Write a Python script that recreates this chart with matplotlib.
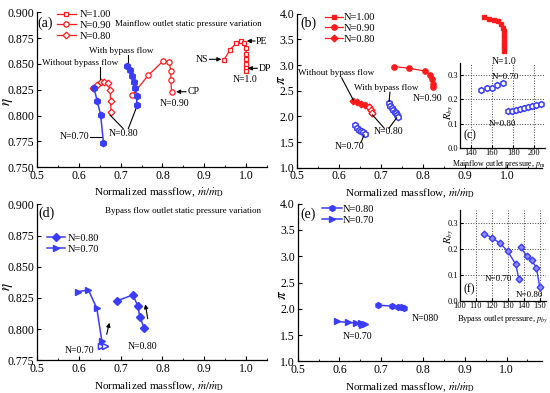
import matplotlib
matplotlib.use('Agg')
import matplotlib.pyplot as plt
from matplotlib.ticker import MultipleLocator, FormatStrFormatter

plt.rcParams['font.family'] = ['Liberation Serif', 'DejaVu Serif']
plt.rcParams['mathtext.fontset'] = 'stix'

RED = '#ff1a1a'
BLUE = '#3a3cff'

# ---------------- data ----------------
# (a) efficiency, mainflow outlet static pressure variation
a_n100_x = [0.947, 0.962, 0.976, 0.987, 0.996, 1.0, 1.0, 1.0, 1.0, 1.0, 1.0]
a_n100_y = [0.854, 0.864, 0.870, 0.872, 0.870, 0.865, 0.860, 0.855, 0.850, 0.846, 0.843]
a_n090_x = [0.728, 0.766, 0.802, 0.816, 0.820, 0.820, 0.822]
a_n090_y = [0.820, 0.839, 0.853, 0.852, 0.8435, 0.8345, 0.823]
a_n080_x = [0.633, 0.644, 0.653, 0.661, 0.669, 0.675, 0.676, 0.677]
a_n080_y = [0.8264, 0.8296, 0.8322, 0.8328, 0.8313, 0.8248, 0.8141, 0.8032]
a_b070_x = [0.636, 0.644, 0.652, 0.659]
a_b070_y = [0.8271, 0.8142, 0.8010, 0.7739]
a_b080_x = [0.716, 0.7235, 0.728, 0.731, 0.735, 0.738, 0.739]
a_b080_y = [0.8484, 0.8442, 0.8384, 0.8329, 0.8265, 0.8190, 0.8100]

# (b) pressure ratio
b_n100_x = [0.945, 0.958, 0.969, 0.979, 0.987, 0.991, 0.993, 0.993, 0.993, 0.993, 0.993, 0.993, 0.993]
b_n100_y = [3.93, 3.90, 3.88, 3.85, 3.80, 3.73, 3.66, 3.59, 3.52, 3.45, 3.39, 3.33, 3.27]
b_n090_x = [0.730, 0.766, 0.806, 0.817, 0.821, 0.823, 0.824]
b_n090_y = [2.97, 2.94, 2.88, 2.80, 2.73, 2.64, 2.58]
b_n080_x = [0.633, 0.643, 0.653, 0.663, 0.671, 0.676, 0.679]
b_n080_y = [2.29, 2.275, 2.245, 2.22, 2.19, 2.13, 2.07]
b_b080_x = [0.718, 0.721, 0.7255, 0.729, 0.733, 0.736, 0.739, 0.741]
b_b080_y = [2.255, 2.21, 2.17, 2.13, 2.09, 2.06, 2.025, 1.98]
b_b070_x = [0.637, 0.642, 0.647, 0.652, 0.657, 0.661]
b_b070_y = [1.83, 1.78, 1.74, 1.71, 1.69, 1.66]

# (c) bypass ratio vs mainflow outlet pressure
c_n070_x = [150, 155, 160, 165, 170]
c_n070_y = [0.237, 0.246, 0.248, 0.258, 0.268]
c_n080_x = [175, 179, 183, 186.5, 190, 194, 198, 201.5, 206]
c_n080_y = [0.151, 0.153, 0.157, 0.161, 0.165, 0.170, 0.174, 0.178, 0.182]

# (d) efficiency, bypass flow outlet static pressure variation
d_n080_x = [0.692, 0.729, 0.741, 0.746, 0.756]
d_n080_y = [0.8228, 0.8273, 0.8188, 0.8095, 0.8011]
d_n070_x = [0.597, 0.623, 0.643, 0.655, 0.654, 0.662]
d_n070_y = [0.830, 0.8313, 0.8167, 0.7905, 0.7865, 0.7865]

# (e) pressure ratio
e_n080_x = [0.691, 0.726, 0.741, 0.747, 0.755]
e_n080_y = [2.07, 2.05, 2.04, 2.03, 2.02]
e_n070_x = [0.593, 0.620, 0.640, 0.651, 0.655, 0.661]
e_n070_y = [1.76, 1.74, 1.73, 1.72, 1.70, 1.71]

# (f) bypass ratio vs bypass outlet pressure
f_n070_x = [115, 120, 125, 130, 135, 137]
f_n070_y = [0.258, 0.242, 0.222, 0.190, 0.140, 0.083]
f_n080_x = [138, 142, 145, 148, 150]
f_n080_y = [0.205, 0.172, 0.155, 0.127, 0.053]

# ---------------- figure ----------------
W, H = 550, 393
fig = plt.figure(figsize=(5.5, 3.93), dpi=100)


def box(l, t, r, b):
    return [l / W, 1 - b / H, (r - l) / W, (b - t) / H]


def style(ax, xlim, ylim, xmaj, ymaj, xfmt, yfmt, ts=8.5, xmin=None, ymin=None, grid=False):
    ax.set_xlim(xlim)
    ax.set_ylim(ylim)
    ax.patch.set_alpha(0)
    for s in ['top', 'right']:
        ax.spines[s].set_visible(False)
    for s in ['left', 'bottom']:
        ax.spines[s].set_linewidth(0.9)
    ax.xaxis.set_major_locator(MultipleLocator(xmaj))
    ax.yaxis.set_major_locator(MultipleLocator(ymaj))
    ax.xaxis.set_major_formatter(FormatStrFormatter(xfmt))
    ax.yaxis.set_major_formatter(FormatStrFormatter(yfmt))
    if xmin:
        ax.xaxis.set_minor_locator(MultipleLocator(xmin))
    if ymin:
        ax.yaxis.set_minor_locator(MultipleLocator(ymin))
    ax.tick_params(which='major', direction='in', length=3, width=0.8, labelsize=ts, pad=2)
    ax.tick_params(which='minor', direction='in', length=1.6, width=0.6)
    if grid:
        ax.grid(True, which='major', linestyle=':', color='0.25', linewidth=0.7)
        ax.set_axisbelow(True)


xl = r'Normalized massflow, $\dot{m}/\dot{m}_{\rm D}$'
TS = 7  # annotation font size
lw_ann = 0.8


def line(ax, x0, y0, x1, y1):
    ax.plot([x0, x1], [y0, y1], color='k', lw=lw_ann)


def arrow(ax, xt, yt, xh, yh):
    ax.annotate('', xy=(xh, yh), xytext=(xt, yt),
                arrowprops=dict(arrowstyle='-|>', color='k', lw=0.8,
                                mutation_scale=6, shrinkA=0, shrinkB=0))


# ---------------- (a) ----------------
ax = fig.add_axes(box(37, 12.3, 267, 167.3))
style(ax, (0.5, 1.05), (0.75, 0.9), 0.1, 0.025, '%.1f', '%.3f', xmin=0.05)
h1, = ax.plot(a_n100_x, a_n100_y, '-', color=RED, lw=0.9, marker='s', ms=3.5,
              mfc='white', mec=RED, mew=0.9, label='N=1.00')
h2, = ax.plot(a_n090_x, a_n090_y, '-', color=RED, lw=0.9, marker='o', ms=3.8,
              mfc='white', mec=RED, mew=0.9, label='N=0.90')
h3, = ax.plot(a_n080_x, a_n080_y, '-', color=RED, lw=0.9, marker='D', ms=3.4,
              mfc='white', mec=RED, mew=0.9, label='N=0.80')
ax.plot(a_b070_x, a_b070_y, '-', color=BLUE, lw=1.1, marker='h', ms=4.6,
        mfc=BLUE, mec=BLUE, zorder=3)
ax.plot(a_b080_x, a_b080_y, '-', color=BLUE, lw=1.1, marker='h', ms=4.6,
        mfc=BLUE, mec=BLUE, zorder=3)
ax.legend(handles=[h1, h2, h3], loc='upper left', bbox_to_anchor=(0.085, 1.015),
          frameon=False, fontsize=7.5, handlelength=1.9, handletextpad=0.3,
          labelspacing=0.15, borderpad=0, borderaxespad=0, numpoints=1)
ax.text(0.502, 0.889, '(a)', fontsize=10, va='center', ha='left')
ax.text(0.6866, 0.889, 'Mainflow outlet static pressure variation', fontsize=6.5,
        va='center', ha='left')
ax.text(0.701, 0.8625, 'With bypass flow', fontsize=6.6, ha='center', va='center')
line(ax, 0.717, 0.8588, 0.717, 0.8495)
ax.text(0.604, 0.8506, 'Without bypass flow', fontsize=6.6, ha='center', va='center')
line(ax, 0.651, 0.8468, 0.651, 0.8351)
ax.text(0.708, 0.7829, 'N=0.80', fontsize=TS, ha='center', va='center')
line(ax, 0.6746, 0.8006, 0.706, 0.7875)
line(ax, 0.7385, 0.8086, 0.7184, 0.7875)
ax.text(0.5885, 0.7796, 'N=0.70', fontsize=TS, ha='center', va='center')
line(ax, 0.627, 0.7796, 0.655, 0.7796)
ax.text(0.8278, 0.8119, 'N=0.90', fontsize=TS, ha='center', va='center')
arrow(ax, 0.8565, 0.8231, 0.8325, 0.8231)
ax.text(0.859, 0.8231, 'CP', fontsize=TS, ha='left', va='center')
arrow(ax, 1.0215, 0.8722, 1.0015, 0.8722)
ax.text(1.024, 0.8722, 'PE', fontsize=TS, ha='left', va='center')
arrow(ax, 1.027, 0.8458, 1.004, 0.8458)
ax.text(1.029, 0.8458, 'DP', fontsize=TS, ha='left', va='center')
arrow(ax, 0.912, 0.8545, 0.941, 0.8545)
ax.text(0.909, 0.8545, 'NS', fontsize=TS, ha='right', va='center')
ax.text(0.9976, 0.8351, 'N=1.0', fontsize=TS, ha='center', va='center')
ax.set_xlabel(xl, fontsize=8)
ax.set_ylabel(r'$\eta$', fontsize=11)
ax.xaxis.set_label_coords(0.532, -0.12)
ax.yaxis.set_label_coords(-0.095, 0.425)

# ---------------- (b) ----------------
ax = fig.add_axes(box(297, 13.7, 541.7, 167.7))
style(ax, (0.5, 1.083), (1.0, 4.0), 0.1, 0.5, '%.1f', '%.1f', xmin=0.05)
h1, = ax.plot(b_n100_x, b_n100_y, '-', color=RED, lw=0.9, marker='s', ms=3.5,
              mfc=RED, mec=RED, label='N=1.00')
h2, = ax.plot(b_n090_x, b_n090_y, '-', color=RED, lw=0.9, marker='o', ms=3.8,
              mfc=RED, mec=RED, label='N=0.90')
h3, = ax.plot(b_n080_x, b_n080_y, '-', color=RED, lw=0.9, marker='D', ms=3.4,
              mfc=RED, mec=RED, label='N=0.80')
ax.plot(b_n080_x[4:], b_n080_y[4:], 'D', ms=3.4, mfc='white', mec=RED, mew=0.9)
ax.plot(b_b080_x, b_b080_y, '-', color=BLUE, lw=0.9, marker='h', ms=4.4,
        mfc='white', mec=BLUE, mew=1.1)
ax.plot(b_b070_x, b_b070_y, '-', color=BLUE, lw=0.9, marker='h', ms=4.4,
        mfc='white', mec=BLUE, mew=1.1)
ax.legend(handles=[h1, h2, h3], loc='upper left', bbox_to_anchor=(0.114, 1.005),
          frameon=False, fontsize=7.5, handlelength=1.7, handletextpad=0.15,
          labelspacing=0.15, borderpad=0, borderaxespad=0, numpoints=1)
ax.text(0.507, 3.815, '(b)', fontsize=10, va='center', ha='left')
ax.text(0.594, 2.84, 'Without bypass flow', fontsize=6.6, ha='center', va='center')
line(ax, 0.6064, 2.75, 0.634, 2.32)
ax.text(0.7115, 2.548, 'With bypass flow', fontsize=6.6, ha='center', va='center')
line(ax, 0.7214, 2.47, 0.7195, 2.29)
ax.text(0.7174, 1.70, 'N=0.80', fontsize=TS, ha='center', va='center')
line(ax, 0.680, 2.027, 0.708, 1.768)
line(ax, 0.7374, 1.97, 0.719, 1.768)
ax.text(0.626, 1.409, 'N=0.70', fontsize=TS, ha='center', va='center')
line(ax, 0.660, 1.637, 0.652, 1.487)
ax.text(0.812, 2.353, 'N=0.90', fontsize=TS, ha='center', va='center')
ax.text(0.9936, 3.06, 'N=1.0', fontsize=TS, ha='center', va='center')
ax.set_xlabel(xl, fontsize=8)
ax.set_ylabel(r'$\pi$', fontsize=11)
ax.xaxis.set_label_coords(0.462, -0.12)
ax.yaxis.set_label_coords(-0.035, 0.569)

# ---------------- (c) inset ----------------
ax = fig.add_axes(box(460, 63, 545, 148))
style(ax, (130, 210), (0.0, 0.35), 20, 0.1, '%d', '%.1f', ts=6, grid=True)
ax.tick_params(length=2, pad=1)
ax.plot(c_n070_x, c_n070_y, 'h', ms=4.2, mfc='white', mec=BLUE, mew=1.1)
ax.plot(c_n080_x, c_n080_y, 'h', ms=4.2, mfc='white', mec=BLUE, mew=1.1)
ax.text(173, 0.293, 'N=0.70', fontsize=6.5, ha='center', va='center')
ax.text(170, 0.098, 'N=0.80', fontsize=6.5, ha='center', va='center')
ax.text(133, 0.054, '(c)', fontsize=8.5, ha='left', va='center')
ax.set_xlabel(r'Mainflow outlet pressure, $p_{\rm m}$', fontsize=5.7, labelpad=0)
ax.set_ylabel(r'$R_{by}$', fontsize=7.5, labelpad=0)
ax.xaxis.set_label_coords(0.45, -0.115)
ax.yaxis.set_label_coords(-0.045, 0.42)

# ---------------- (d) ----------------
ax = fig.add_axes(box(37, 204.3, 267, 360.3))
style(ax, (0.5, 1.05), (0.775, 0.9), 0.1, 0.025, '%.1f', '%.3f', xmin=0.05)
h1, = ax.plot(d_n080_x, d_n080_y, '-', color=BLUE, lw=1.1, marker='D', ms=3.6,
              mfc=BLUE, mec=BLUE, label='N=0.80')
h2, = ax.plot(d_n070_x, d_n070_y, '-', color=BLUE, lw=1.1, marker='>', ms=4.2,
              mfc=BLUE, mec=BLUE, label='N=0.70')
ax.plot(d_n070_x[4:], d_n070_y[4:], '>', ms=4.2, mfc='white', mec=BLUE, mew=1.0)
ax.legend(handles=[h1, h2], loc='upper left', bbox_to_anchor=(0.0435, 0.813),
          frameon=False, fontsize=7.5, handlelength=1.7, handletextpad=0.3,
          labelspacing=0.15, borderpad=0, borderaxespad=0, numpoints=1)
ax.text(0.503, 0.8928, '(d)', fontsize=10, va='center', ha='left')
ax.text(0.6627, 0.8946, 'Bypass flow outlet static pressure variation', fontsize=6.5,
        va='center', ha='left')
arrow(ax, 0.6667, 0.7958, 0.673, 0.8051)
arrow(ax, 0.7648, 0.8083, 0.759, 0.8199)
ax.text(0.6005, 0.7825, 'N=0.70', fontsize=TS, ha='center', va='center')
ax.text(0.7512, 0.7857, 'N=0.80', fontsize=TS, ha='center', va='center')
ax.set_xlabel(xl, fontsize=8)
ax.set_ylabel(r'$\eta$', fontsize=11)
ax.xaxis.set_label_coords(0.532, -0.125)
ax.yaxis.set_label_coords(-0.095, 0.47)

# ---------------- (e) ----------------
ax = fig.add_axes(box(297.7, 203.7, 541.7, 361.3))
style(ax, (0.5, 1.084), (1.0, 4.0), 0.1, 0.5, '%.1f', '%.1f', xmin=0.05)
h1, = ax.plot(e_n080_x, e_n080_y, '-', color=BLUE, lw=1.1, marker='h', ms=4.2,
              mfc=BLUE, mec=BLUE, label='N=0.80')
h2, = ax.plot(e_n070_x, e_n070_y, '-', color=BLUE, lw=1.1, marker='>', ms=4.2,
              mfc=BLUE, mec=BLUE, label='N=0.70')
ax.legend(handles=[h1, h2], loc='upper left', bbox_to_anchor=(0.0996, 0.993),
          frameon=False, fontsize=7.5, handlelength=1.9, handletextpad=0.1,
          labelspacing=0.15, borderpad=0, borderaxespad=0, numpoints=1)
ax.text(0.5055, 3.80, '(e)', fontsize=10, va='center', ha='left')
ax.text(0.8045, 1.81, 'N=080', fontsize=TS, ha='center', va='center')
ax.text(0.643, 1.468, 'N=0.70', fontsize=TS, ha='center', va='center')
ax.set_xlabel(xl, fontsize=8)
ax.set_ylabel(r'$\pi$', fontsize=11)
ax.xaxis.set_label_coords(0.462, -0.125)
ax.yaxis.set_label_coords(-0.035, 0.42)

# ---------------- (f) inset ----------------
ax = fig.add_axes(box(460, 209.7, 546, 300.7))
style(ax, (100, 154), (0.0, 0.35), 10, 0.1, '%d', '%.1f', ts=6, grid=True)
ax.tick_params(length=2, pad=1)
ax.plot(f_n070_x, f_n070_y, '-', color=BLUE, lw=1.0, marker='D', ms=3.4,
        mfc='#8c8cff', mec=BLUE, mew=1.0)
ax.plot(f_n080_x, f_n080_y, '-', color=BLUE, lw=1.0, marker='D', ms=3.4,
        mfc='#8c8cff', mec=BLUE, mew=1.0)
ax.text(124.4, 0.082, 'N=0.70', fontsize=6.5, ha='center', va='center')
ax.text(143.75, 0.022, 'N=0.80', fontsize=6.5, ha='center', va='center')
ax.text(102, 0.044, '(f)', fontsize=8.5, ha='left', va='center')
ax.set_xlabel(r'Bypass outlet pressure, $p_{by}$', fontsize=6, labelpad=0)
ax.set_ylabel(r'$R_{by}$', fontsize=7.5, labelpad=0)
ax.xaxis.set_label_coords(0.49, -0.14)
ax.yaxis.set_label_coords(-0.045, 0.71)

fig.savefig('out.png', dpi=100)
